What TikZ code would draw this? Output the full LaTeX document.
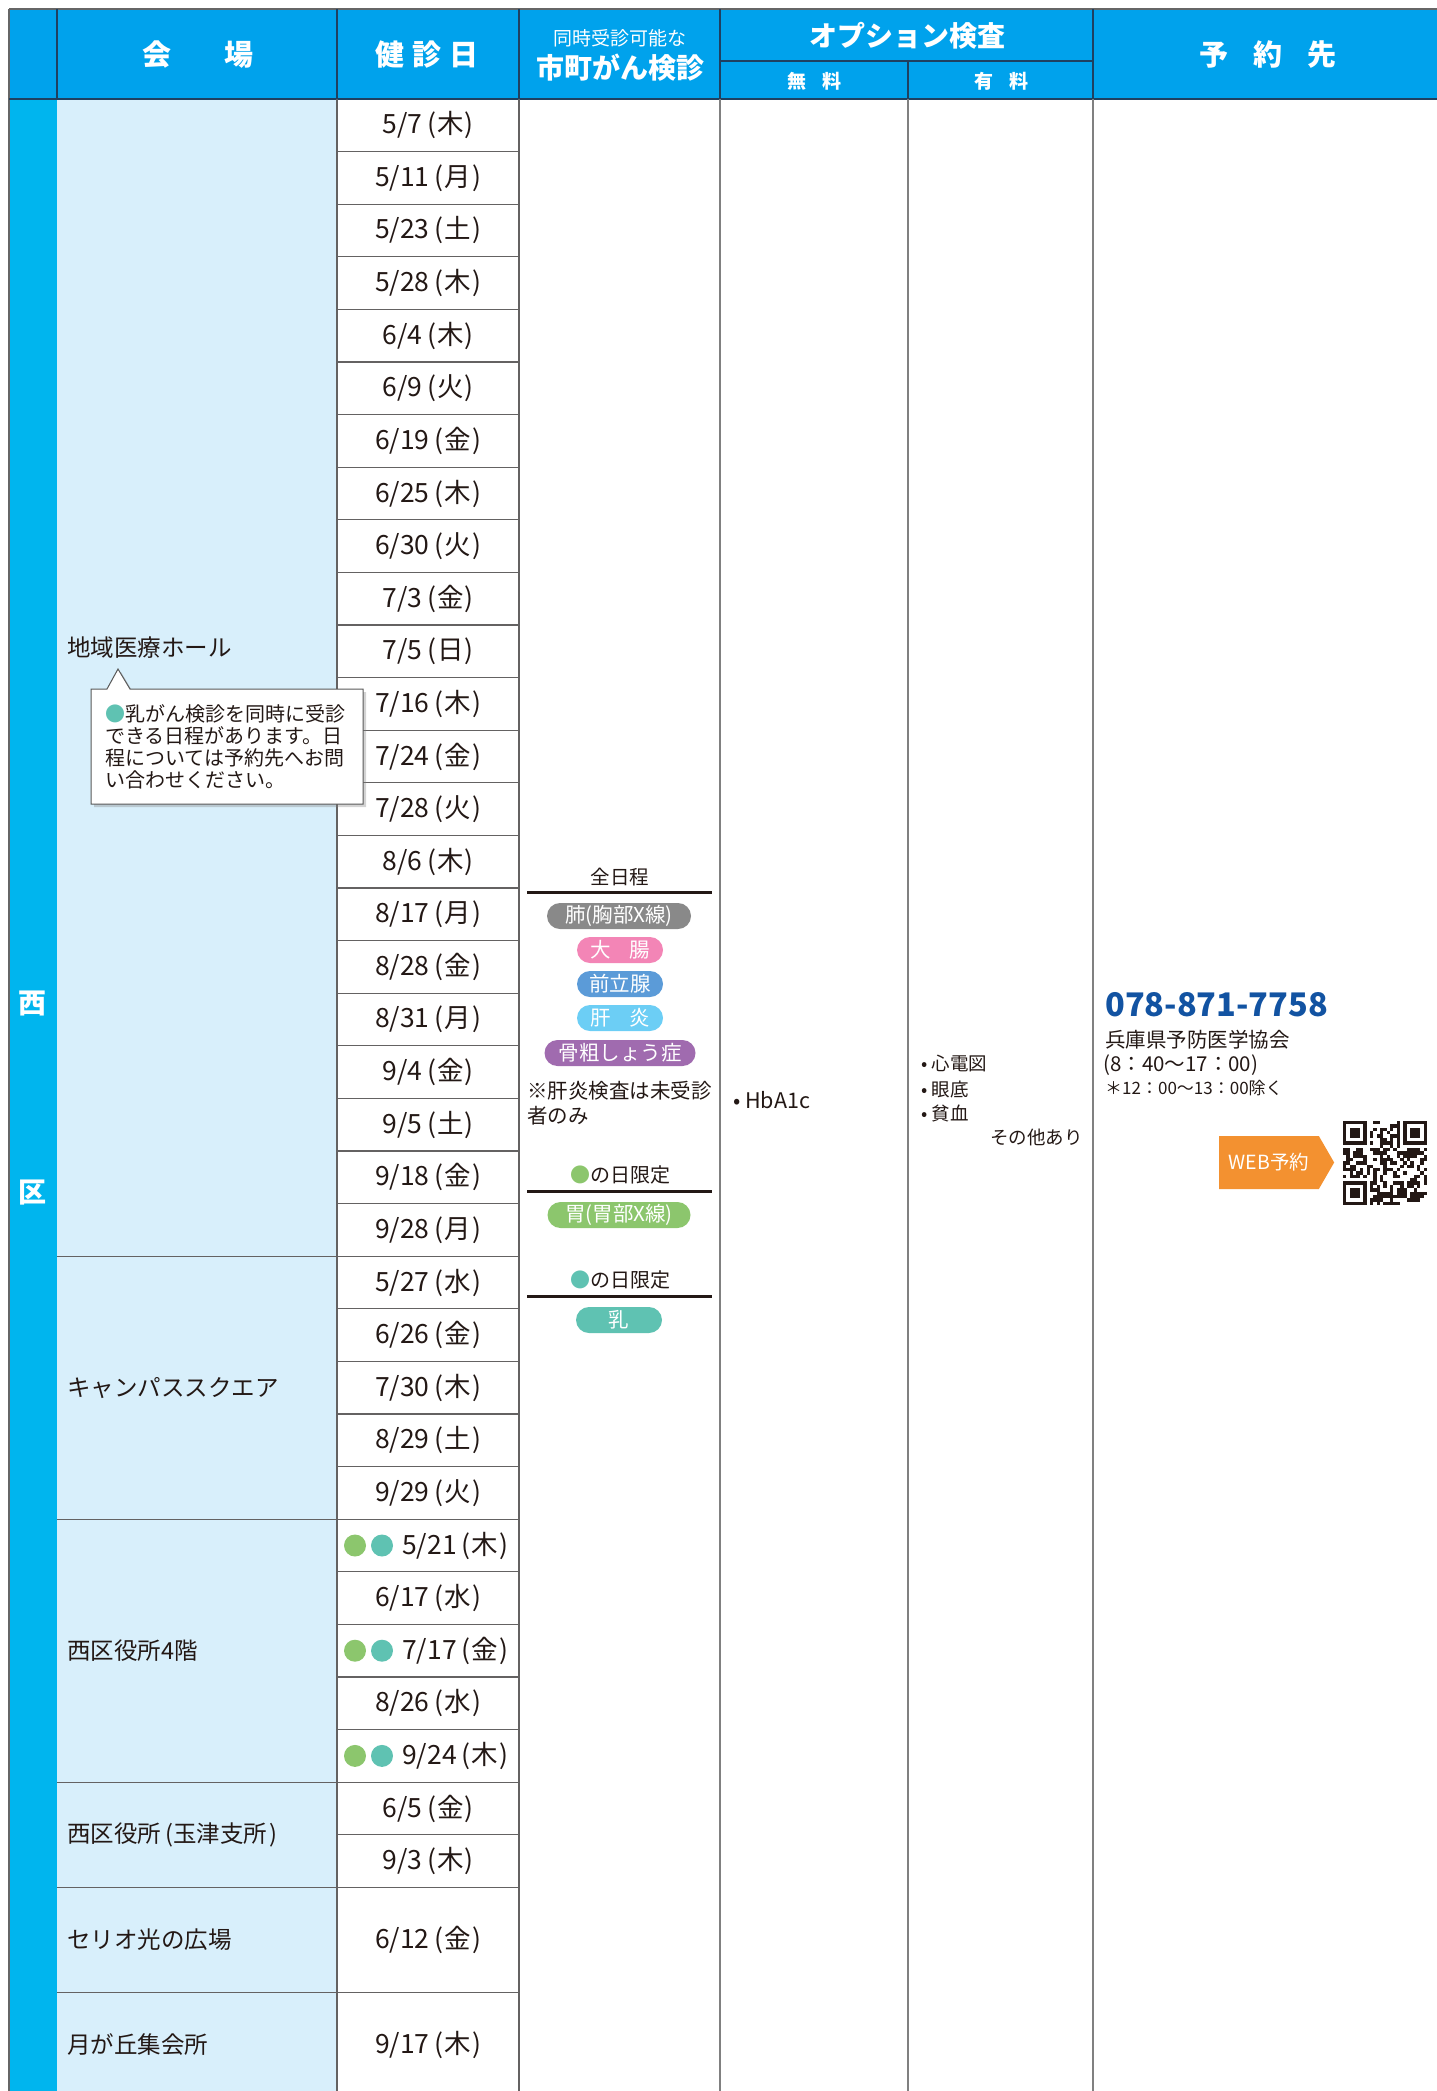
\documentclass[tikz,border=0pt]{standalone}
\usepackage{fontspec}
\setmainfont{Noto Sans CJK JP}
\usepackage{tikz}
\usetikzlibrary{shadows, shapes.symbols}
\definecolor{hdrblue}{RGB}{0,162,236}
\definecolor{sideblue}{RGB}{0,181,238}
\definecolor{venuebg}{RGB}{216,239,251}
\definecolor{hdrline}{RGB}{31,64,96}
\definecolor{gridgray}{RGB}{100,98,98}
\definecolor{inkblack}{RGB}{35,24,21}
\definecolor{pillgray}{RGB}{137,137,137}
\definecolor{pillpink}{RGB}{243,133,182}
\definecolor{pillblue}{RGB}{91,155,216}
\definecolor{pillsky}{RGB}{108,206,245}
\definecolor{pillpurple}{RGB}{160,107,175}
\definecolor{pillgreen}{RGB}{140,198,109}
\definecolor{pillteal}{RGB}{95,194,178}
\definecolor{telblue}{RGB}{18,83,162}
\definecolor{weborange}{RGB}{243,145,48}
\tikzset{
  hdr/.style={text=white, inner sep=0pt, font=\bfseries\fontsize{29}{29}\selectfont},
  datecell/.style={text=inkblack, inner sep=0pt, font=\fontsize{26.5}{27}\selectfont},
  venuelabel/.style={anchor=west, text=inkblack, inner sep=0pt, font=\fontsize{23.5}{24}\selectfont},
  pill/.style={rounded corners=13pt, minimum height=26pt, inner sep=0pt, text=white, font=\fontsize{20.5}{21}\selectfont},
  daydot/.style={circle, inner sep=0pt, minimum size=22pt},
  gridline/.style={draw=gridgray, line width=1.2pt},
  rule/.style={draw=inkblack, line width=3pt},
  small/.style={text=inkblack, inner sep=0pt, font=\fontsize{20.5}{25}\selectfont}
}
\newcommand{\dt}[2]{#1\hspace{5pt}(\hspace{1pt}#2\hspace{1pt})}

\begin{document}
\begin{tikzpicture}[x=1pt, y=-1pt]
\useasboundingbox (0,0) rectangle (1437,2091);

% backgrounds
\fill[hdrblue] (9,9) rectangle (1437,99);
\fill[sideblue] (9,99) rectangle (57,2091);
\fill[venuebg] (57,99) rectangle (337,2091);

% header
\draw[gray!80!black, line width=2pt] (9,9) -- (1437,9);
\draw[gray!80!black, line width=1.5pt] (9,9) -- (9,2091);
\begin{scope}[draw=hdrline, line width=1.5pt]
  \draw (57,9) -- (57,99);
  \draw (337,9) -- (337,99);
  \draw (519,9) -- (519,99);
  \draw (720,9) -- (720,99);
  \draw (1093,9) -- (1093,99);
  \draw (908,61) -- (908,99);
  \draw[line width=2.5pt] (720,61) -- (1093,61);
  \draw[line width=2.5pt] (9,99) -- (1437,99);
\end{scope}

\node[hdr] (hvenue) at (198,55) {会\hspace{53pt}場};
\node[hdr] (hdate) at (427,55) {健\hspace{8pt}診\hspace{8pt}日};
\node[hdr, font=\fontsize{19}{19}\selectfont] (hsub) at (620,38) {同時受診可能な};
\node[hdr, font=\bfseries\fontsize{28}{28}\selectfont] (hcancer) at (620,68) {市町がん検診};
\node[hdr, font=\bfseries\fontsize{28}{28}\selectfont] (hoption) at (907,36) {オプション検査};
\node[hdr, font=\bfseries\fontsize{19}{19}\selectfont] (hfree) at (814,81) {無\hspace{16pt}料};
\node[hdr, font=\bfseries\fontsize{19}{19}\selectfont] (hpaid) at (1001,81) {有\hspace{16pt}料};
\node[hdr] (hbook) at (1268,55) {予\hspace{25pt}約\hspace{25pt}先};

% side strip
\node[hdr, font=\bfseries\fontsize{28}{28}\selectfont] (ward1) at (33,1003) {西};
\node[hdr, font=\bfseries\fontsize{28}{28}\selectfont] (ward2) at (33,1193) {区};

% grid of the body
\foreach \k in {1,...,34,36}
  \draw[gridline] (337,{99+52.6*\k}) -- (519,{99+52.6*\k});
\foreach \k in {22,27,32,34,36}
  \draw[gridline] (57,{99+52.6*\k}) -- (337,{99+52.6*\k});
\draw[gridline] (337,99) -- (337,2091);
\draw[gridline] (519,99) -- (519,2091);
\draw[gridline, draw=gray] (720,99) -- (720,2091);
\draw[gridline, draw=gray] (908,99) -- (908,2091);
\draw[gridline, draw=gray] (1093,99) -- (1093,2091);

% venues
\node[venuelabel] (v1) at (67,648) {地域医療ホール};
\node[venuelabel] (v2) at (67,1388) {キャンパススクエア};
\node[venuelabel] (v3) at (67,1651) {西区役所4階};
\node[venuelabel] (v4) at (67,1835) {西区役所\hspace{4pt}(玉津支所\hspace{2pt})};
\node[venuelabel] (v5) at (67,1940) {セリオ光の広場};
\node[venuelabel] (v6) at (67,2045) {月が丘集会所};

% callout
\draw[draw=gray!70!black, line width=1pt, fill=white, drop shadow={opacity=0.35, shadow xshift=3pt, shadow yshift=-3pt}]
  (91,689) -- (107,689) -- (118,669) -- (130,689) -- (363,689) -- (363,804) -- (91,804) -- cycle;
\node[small, anchor=north west, align=left, font=\fontsize{20}{22}\selectfont] (callout) at (105,704)
  {\textcolor{pillteal}{●}乳がん検診を同時に受診\\できる日程があります。日\\程については予約先へお問\\い合わせください。};

% dates
\begin{scope}[every node/.style={datecell}]
  \node (d1) at (428,125.3) {\dt{5/7}{木}};
  \node (d2) at (428,177.9) {\dt{5/11}{月}};
  \node (d3) at (428,230.5) {\dt{5/23}{土}};
  \node (d4) at (428,283.1) {\dt{5/28}{木}};
  \node (d5) at (428,335.7) {\dt{6/4}{木}};
  \node (d6) at (428,388.3) {\dt{6/9}{火}};
  \node (d7) at (428,440.9) {\dt{6/19}{金}};
  \node (d8) at (428,493.5) {\dt{6/25}{木}};
  \node (d9) at (428,546.1) {\dt{6/30}{火}};
  \node (d10) at (428,598.7) {\dt{7/3}{金}};
  \node (d11) at (428,651.3) {\dt{7/5}{日}};
  \node (d12) at (428,703.9) {\dt{7/16}{木}};
  \node (d13) at (428,756.5) {\dt{7/24}{金}};
  \node (d14) at (428,809.1) {\dt{7/28}{火}};
  \node (d15) at (428,861.7) {\dt{8/6}{木}};
  \node (d16) at (428,914.3) {\dt{8/17}{月}};
  \node (d17) at (428,966.9) {\dt{8/28}{金}};
  \node (d18) at (428,1019.5) {\dt{8/31}{月}};
  \node (d19) at (428,1072.1) {\dt{9/4}{金}};
  \node (d20) at (428,1124.7) {\dt{9/5}{土}};
  \node (d21) at (428,1177.3) {\dt{9/18}{金}};
  \node (d22) at (428,1229.9) {\dt{9/28}{月}};
  \node (d23) at (428,1282.5) {\dt{5/27}{水}};
  \node (d24) at (428,1335.1) {\dt{6/26}{金}};
  \node (d25) at (428,1387.7) {\dt{7/30}{木}};
  \node (d26) at (428,1440.3) {\dt{8/29}{土}};
  \node (d27) at (428,1492.9) {\dt{9/29}{火}};
  \node[anchor=west] (d28) at (402,1545.5) {\dt{5/21}{木}};
  \node (d29) at (428,1598.1) {\dt{6/17}{水}};
  \node[anchor=west] (d30) at (402,1650.7) {\dt{7/17}{金}};
  \node (d31) at (428,1703.3) {\dt{8/26}{水}};
  \node[anchor=west] (d32) at (402,1755.9) {\dt{9/24}{木}};
  \node (d33) at (428,1808.5) {\dt{6/5}{金}};
  \node (d34) at (428,1861.1) {\dt{9/3}{木}};
  \node (d35) at (428,1940) {\dt{6/12}{金}};
  \node (d36) at (428,2045.2) {\dt{9/17}{木}};
\end{scope}

\node[daydot, fill=pillgreen] (g28) at (355,1545.5) {};
\node[daydot, fill=pillteal] (t28) at (382,1545.5) {};
\node[daydot, fill=pillgreen] (g30) at (355,1650.7) {};
\node[daydot, fill=pillteal] (t30) at (382,1650.7) {};
\node[daydot, fill=pillgreen] (g32) at (355,1755.9) {};
\node[daydot, fill=pillteal] (t32) at (382,1755.9) {};

% cancer screenings
\node[small, font=\fontsize{19.5}{19.5}\selectfont] (alldays) at (620,877) {全日程};
\draw[rule] (527,892) -- (712,892);
\node[pill, fill=pillgray, minimum width=144pt] (lung) at (619,916) {肺(胸部X線)};
\node[pill, fill=pillpink, minimum width=86pt] (colon) at (620,950) {大\hspace{19pt}腸};
\node[pill, fill=pillblue, minimum width=86pt] (prostate) at (620,984) {前立腺};
\node[pill, fill=pillsky, minimum width=86pt] (liver) at (620,1018) {肝\hspace{19pt}炎};
\node[pill, fill=pillpurple, minimum width=151pt] (bone) at (620,1053) {骨粗しょう症};
\node[small, anchor=north west, align=left] (livernote) at (527,1081) {※肝炎検査は未受診\\者のみ};

\node[small, font=\fontsize{20}{20}\selectfont] (greenday) at (620,1175) {\textcolor{pillgreen}{●}の日限定};
\draw[rule] (527,1191) -- (712,1191);
\node[pill, fill=pillgreen, minimum width=143pt] (stomach) at (619,1215) {胃(胃部X線)};

\node[small, font=\fontsize{20}{20}\selectfont] (tealday) at (620,1280) {\textcolor{pillteal}{●}の日限定};
\draw[rule] (527,1296) -- (712,1296);
\node[pill, fill=pillteal, minimum width=86pt] (breast) at (619,1320) {乳};

% options
\node[small, anchor=west, font=\fontsize{21.5}{21.5}\selectfont] (hba) at (733,1100) {• HbA1c};
\begin{scope}[every node/.style={small, anchor=west, font=\fontsize{18.5}{18.5}\selectfont}]
  \node (ecg) at (921,1063) {• 心電図};
  \node (fundus) at (921,1089) {• 眼底};
  \node (anemia) at (921,1113) {• 貧血};
  \node[anchor=east] (others) at (1083,1137) {その他あり};
\end{scope}

% booking
\node[anchor=west, inner sep=0pt, text=telblue, font=\bfseries\fontsize{32.5}{32.5}\selectfont] (tel) at (1105,1005) {078-871-7758};
\node[small, anchor=west, font=\fontsize{20.5}{20.5}\selectfont] (assoc) at (1105,1040) {兵庫県予防医学協会};
\node[small, anchor=west, font=\fontsize{20.5}{20.5}\selectfont] (hours) at (1103,1065) {(8：40〜17：00)};
\node[small, anchor=west, font=\fontsize{17}{17}\selectfont] (lunch) at (1105,1088) {＊12：00〜13：00除く};
\node[signal, signal to=east, signal pointer angle=120, fill=weborange, text=white, inner sep=0pt,
  minimum width=115pt, minimum height=53pt, font=\fontsize{19.5}{19.5}\selectfont] (web) at (1269,1162.5) {WEB予約};

% qr code
\pgfmathsetseed{2020}
\foreach \i in {0,...,24}
  \foreach \j in {0,...,24} {
    \pgfmathtruncatemacro\qrfill{(rnd<0.5)&&!((\i<8&&\j<8)||(\i>16&&\j<8)||(\i<8&&\j>16))}
    \ifnum\qrfill=1 \fill[inkblack] ({1343+3.36*\i},{1121+3.36*\j}) rectangle +(3.4,3.4); \fi
  }
\foreach \qa/\qb in {0/0,18/0,0/18} {
  \fill[inkblack] ({1343+3.36*\qa},{1121+3.36*\qb}) rectangle +(23.52,23.52);
  \fill[white] ({1343+3.36*(\qa+1)},{1121+3.36*(\qb+1)}) rectangle +(16.8,16.8);
  \fill[inkblack] ({1343+3.36*(\qa+2)},{1121+3.36*(\qb+2)}) rectangle +(10.08,10.08);
}

\end{tikzpicture}
\end{document}
